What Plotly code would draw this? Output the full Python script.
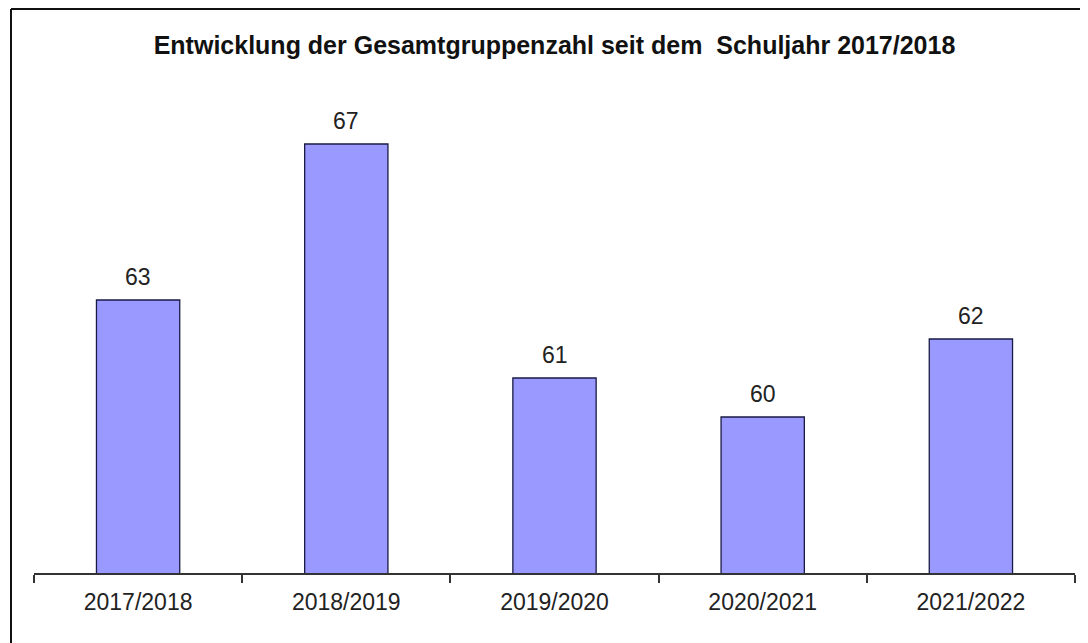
import plotly.graph_objects as go

categories = ["2017/2018", "2018/2019", "2019/2020", "2020/2021", "2021/2022"]
values = [63, 67, 61, 60, 62]
title_text = "Entwicklung der Gesamtgruppenzahl seit dem  Schuljahr 2017/2018"

# page has an 8px body margin; the figure is sized to fit the window
W, H = 1080, 635
L, R, T, B = 26, 13, 72, 70
FONT = "Liberation Sans, Arial, sans-serif"

fig = go.Figure()
fig.add_trace(go.Bar(
    x=categories, y=values,
    marker=dict(color="#9999FF", line=dict(color="#1a1a45", width=1.3)),
    hoverinfo="skip",
))

for c, v in zip(categories, values):
    fig.add_annotation(x=c, y=v, text=str(v), showarrow=False,
                       yanchor="bottom", yshift=8,
                       font=dict(family=FONT, size=23, color="#222222"))

pw = W - L - R
ph = H - T - B
def px_x(p):
    return (p - L) / pw
def px_y(p):
    return (H - B - p) / ph

# outer border (left, top, right)
fig.add_shape(type="line", xref="paper", yref="paper",
              x0=px_x(3), x1=px_x(3), y0=px_y(1), y1=px_y(700),
              line=dict(color="#111111", width=2))
fig.add_shape(type="line", xref="paper", yref="paper",
              x0=px_x(3), x1=px_x(1078), y0=px_y(1), y1=px_y(1),
              line=dict(color="#111111", width=2))
fig.add_shape(type="line", xref="paper", yref="paper",
              x0=px_x(1078), x1=px_x(1078), y0=px_y(1), y1=px_y(700),
              line=dict(color="#dddddd", width=1))

fig.update_layout(
    width=W, height=H,
    margin=dict(l=L, r=R, t=T, b=B),
    paper_bgcolor="white", plot_bgcolor="white",
    showlegend=False,
    bargap=0.6,
    title=dict(text="<b>" + title_text + "</b>", x=0.5, xref="paper",
               y=1 - 37 / H, yanchor="middle",
               font=dict(family=FONT, size=25, color="#111111")),
    xaxis=dict(type="category", showline=True, linecolor="#333333", linewidth=1.5,
               ticks="outside", tickson="boundaries", ticklen=8, tickcolor="#333333",
               tickwidth=1.5, showgrid=False, zeroline=False,
               ticklabelstandoff=8,
               tickfont=dict(family=FONT, size=23, color="#222222")),
    yaxis=dict(visible=False, range=[56, 56 + ph / 39.0]),
)

fig.write_html("out.html")
